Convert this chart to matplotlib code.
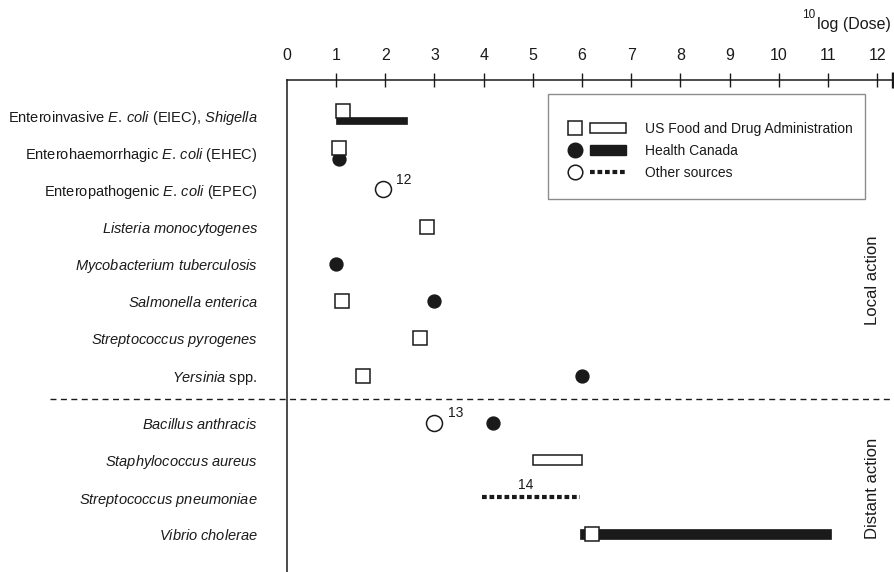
import matplotlib
matplotlib.use("Agg")
import matplotlib.pyplot as plt
import matplotlib.transforms as mtransforms
import numpy as np
from matplotlib.lines import Line2D
from matplotlib.patches import Rectangle

nan = np.nan

# --- data (log10 dose) ---
pathogens = [
    r"Enteroinvasive $\mathit{E.\!\ coli}$ (EIEC), $\mathit{Shigella}$",
    r"Enterohaemorrhagic $\mathit{E.\!\ coli}$ (EHEC)",
    r"Enteropathogenic $\mathit{E.\!\ coli}$ (EPEC)",
    r"$\mathit{Listeria}$ $\mathit{monocytogenes}$",
    r"$\mathit{Mycobacterium}$ $\mathit{tuberculosis}$",
    r"$\mathit{Salmonella}$ $\mathit{enterica}$",
    r"$\mathit{Streptococcus}$ $\mathit{pyrogenes}$",
    r"$\mathit{Yersinia}$ spp.",
    r"$\mathit{Bacillus}$ $\mathit{anthracis}$",
    r"$\mathit{Staphylococcus}$ $\mathit{aureus}$",
    r"$\mathit{Streptococcus}$ $\mathit{pneumoniae}$",
    r"$\mathit{Vibrio}$ $\mathit{cholerae}$",
]
distant = [False] * 8 + [True] * 4

fda_dose = [1.15, 1.07, nan, 2.85, nan, 1.12, 2.7, 1.55, nan, nan, nan, 6.2]
hc_dose = [nan, 1.07, nan, nan, 1.0, 3.0, nan, 6.0, 4.2, nan, nan, nan]
other_dose = [nan, nan, 1.95, nan, nan, nan, nan, nan, 3.0, nan, nan, nan]

fda_lo = [nan, nan, nan, nan, nan, nan, nan, nan, nan, 5.0, nan, nan]
fda_hi = [nan, nan, nan, nan, nan, nan, nan, nan, nan, 6.0, nan, nan]
hc_lo = [1.0, nan, nan, nan, nan, nan, nan, nan, nan, nan, nan, 5.95]
hc_hi = [2.45, nan, nan, nan, nan, nan, nan, nan, nan, nan, nan, 11.05]
other_lo = [nan, nan, nan, nan, nan, nan, nan, nan, nan, nan, 3.97, nan]
other_hi = [nan, nan, nan, nan, nan, nan, nan, nan, nan, nan, 5.95, nan]
other_ref = ["", "", "12", "", "", "", "", "", "13", "", "14", ""]

# --- style ---
plt.rcParams["font.family"] = "Liberation Sans"
plt.rcParams["mathtext.fontset"] = "custom"
plt.rcParams["mathtext.rm"] = "Liberation Sans"
plt.rcParams["mathtext.it"] = "Liberation Sans:italic"
plt.rcParams["lines.scale_dashes"] = False
ink = "#1a1a1a"
dotted = (0, (3.4, 2.0))

n = len(pathogens)
rows = np.arange(n) + np.where(distant, 0.27, 0.0)
# small vertical nudges where two sources share a row at the same dose
fda_nudge = np.zeros(n)
hc_nudge = np.zeros(n)
fda_nudge[0], hc_nudge[0] = -0.11, 0.15
fda_nudge[1], hc_nudge[1] = -0.11, 0.19

fig = plt.figure(figsize=(8.95, 5.72), dpi=100)
ax = fig.add_axes([0.3205, 0.0, 0.6778, 0.8601])

fda_dose = np.array(fda_dose)
hc_dose = np.array(hc_dose)
other_dose = np.array(other_dose)
fda_lo, fda_hi = np.array(fda_lo), np.array(fda_hi)
hc_lo, hc_hi = np.array(hc_lo), np.array(hc_hi)
other_lo, other_hi = np.array(other_lo), np.array(other_hi)

# ranges
m = ~np.isnan(fda_lo)
ax.barh(rows[m], fda_hi[m] - fda_lo[m], left=fda_lo[m], height=0.27,
        color="white", edgecolor=ink, linewidth=1.1, zorder=2)
m = ~np.isnan(hc_lo)
ax.barh(rows[m] + hc_nudge[m], hc_hi[m] - hc_lo[m], left=hc_lo[m],
        height=np.where(hc_nudge[m] != 0, 0.2, 0.27), color=ink,
        edgecolor=ink, linewidth=0.5, zorder=2)
m = ~np.isnan(other_lo)
ax.hlines(rows[m], other_lo[m], other_hi[m], colors=ink, linewidth=3,
          linestyles=[dotted], zorder=2)

# points
ax.plot(hc_dose, rows + hc_nudge, "o", color=ink, ms=9.3, zorder=3)
ax.plot(other_dose, rows, "o", mfc="white", mec=ink, ms=11.5, mew=1.1, zorder=3)
ax.plot(fda_dose, rows + fda_nudge, "s", mfc="white", mec=ink, ms=9.5,
        mew=1.1, zorder=4)

# reference numbers for "other sources"
for i, ref in enumerate(other_ref):
    if not ref:
        continue
    if not np.isnan(other_dose[i]):
        ax.annotate(ref, (other_dose[i], rows[i]), xytext=(15, 7),
                    textcoords="offset points", ha="center", va="center",
                    fontsize=10, color=ink)
    else:
        mid = (other_lo[i] + other_hi[i]) / 2
        ax.annotate(ref, (mid, rows[i]), xytext=(-4, 9),
                    textcoords="offset points", ha="center", va="center",
                    fontsize=10, color=ink)

# axes
ax.set_xlim(0, 12.33)
ax.set_ylim(12.28, -0.94)
ax.xaxis.tick_top()
ax.set_xticks(range(13))
ax.tick_params(axis="x", direction="inout", length=10, width=1.0, pad=7,
               labelsize=11.5, colors=ink)
ax.xaxis.get_major_ticks()[0].tick2line.set_visible(False)
ax.set_yticks(rows)
ax.set_yticklabels(pathogens)
ax.tick_params(axis="y", length=0, pad=21, labelsize=10.5, colors=ink)
for s in ["right", "bottom"]:
    ax.spines[s].set_visible(False)
for s in ["top", "left"]:
    ax.spines[s].set_linewidth(1.1)
    ax.spines[s].set_color(ink)
ax.plot([1], [1], marker="|", ms=11, mew=2.4, color=ink,
        transform=ax.transAxes, clip_on=False)

# separator between local and distant action
y_sep = (rows[7] + rows[8]) / 2
trans = mtransforms.blended_transform_factory(ax.transAxes, ax.transData)
ax.plot([-0.39, 1.01], [y_sep, y_sep], transform=trans, clip_on=False,
        color=ink, lw=1.0, ls=(0, (4.3, 3.2)))

ax.text(0.966, 0.5935, "Local action", rotation=90, transform=ax.transAxes,
        ha="center", va="center", fontsize=12, color=ink)
ax.text(0.966, 0.1707, "Distant action", rotation=90, transform=ax.transAxes,
        ha="center", va="center", fontsize=12, color=ink)
title = fig.text(0.9955, 1 - 24 / 572, "log (Dose)", ha="right", va="center",
                 fontsize=11.5, color=ink)
ax.annotate("10", xy=(0, 1), xycoords=title, xytext=(-1, 1),
            textcoords="offset points", ha="right", va="center",
            fontsize=8.5, color=ink, annotation_clip=False)

# legend
handles = [
    Line2D([], [], marker="s", ls="", mfc="white", mec=ink, ms=10, mew=1.1),
    Line2D([], [], marker="o", ls="", color=ink, ms=10.5),
    Line2D([], [], marker="o", ls="", mfc="white", mec=ink, ms=10.5, mew=1.1),
    Rectangle((0, 0), 1, 1, fc="white", ec=ink, lw=1.1),
    Rectangle((0, 0), 1, 1, fc=ink, ec=ink),
    Line2D([], [], color=ink, lw=3, ls=dotted),
]
labels = ["", "", "", "US Food and Drug Administration", "Health Canada",
          "Other sources"]
ax.legend(handles, labels, ncol=2, loc="upper left",
          bbox_to_anchor=(0.4339, 0.9289), bbox_transform=ax.transAxes,
          frameon=False, borderpad=0, handlelength=2.6, handleheight=0.7,
          handletextpad=1.37, columnspacing=-1.58, labelspacing=0.59,
          fontsize=10, labelcolor=ink)
ax.add_patch(Rectangle((0.4306, 0.7581), 0.5226, 0.2134, transform=ax.transAxes,
                       fill=False, ec="#8c8c8c", lw=1.0, clip_on=False))

fig.savefig("out.png", dpi=100)
